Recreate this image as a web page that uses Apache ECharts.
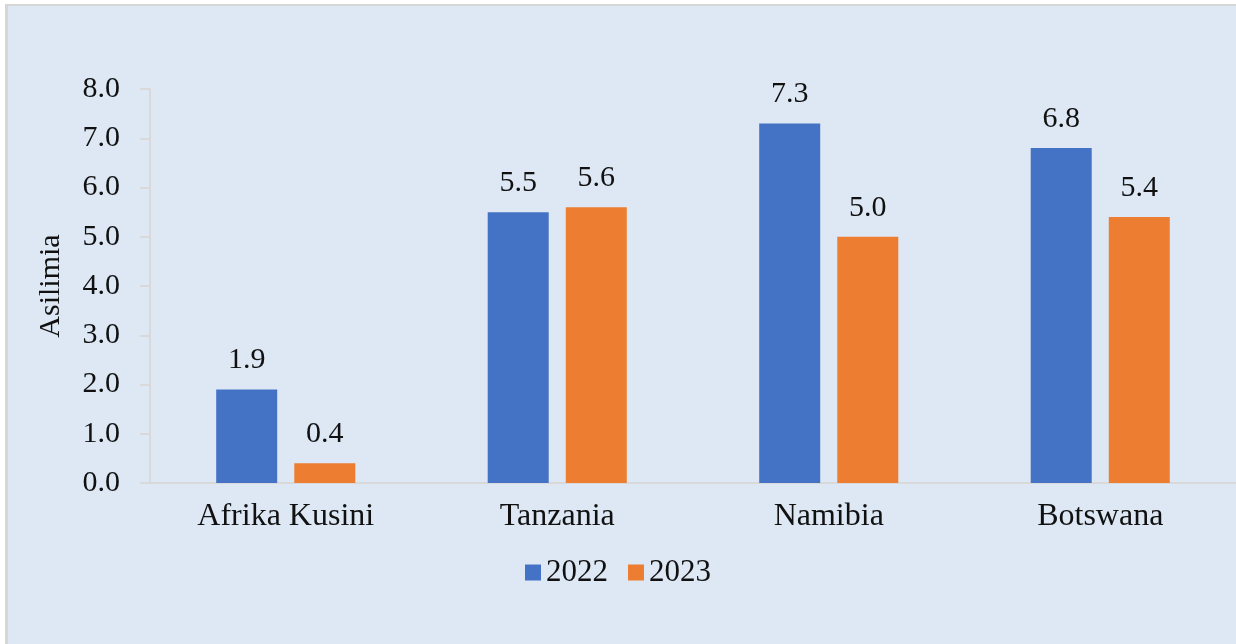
<!DOCTYPE html>
<html>
<head>
<meta charset="utf-8">
<script src="https://cdn.jsdelivr.net/npm/echarts@6/dist/echarts.min.js"></script>
<style>
  html, body { margin: 0; padding: 0; background: #fff; }
  #frame {
    position: absolute; left: 5px; top: 4px; right: 0; bottom: 0;
    background: #dde8f4;
    border-top: 2px solid #d6d6d6;
    border-left: 3px solid #d6d6d6;
  }
  #main { position: absolute; left: 0; top: 0; width: 1236px; height: 644px; }
</style>
</head>
<body>
<div id="frame"></div>
<div id="main"></div>
<script>
const categories = ['Afrika Kusini', 'Tanzania', 'Namibia', 'Botswana'];
const values2022 = [1.9, 5.5, 7.3, 6.8];
const values2023 = [0.4, 5.6, 5.0, 5.4];
const seriesNames = ['2022', '2023'];

const font = "'Liberation Serif', 'Times New Roman', serif";
const chart = echarts.init(document.getElementById('main'), null, { renderer: 'canvas' });

const label = {
  show: true,
  position: 'top',
  distance: 14,
  color: '#111',
  fontFamily: font,
  fontSize: 30,
  formatter: p => p.value.toFixed(1)
};

chart.setOption({
  backgroundColor: 'transparent',
  animation: false,
  color: ['#4472c4', '#ed7d31'],
  grid: { left: 150, right: 0, top: 89, bottom: 161 },
  legend: {
    data: seriesNames,
    left: 'center',
    top: 552,
    icon: 'rect',
    itemWidth: 16,
    itemHeight: 16,
    itemGap: 20,
    textStyle: { fontFamily: font, fontSize: 31, color: '#111' }
  },
  xAxis: {
    type: 'category',
    data: categories,
    axisLine: { lineStyle: { color: '#d9d9d9', width: 2 } },
    axisTick: { show: false },
    axisLabel: { color: '#111', fontFamily: font, fontSize: 32, margin: 18 }
  },
  yAxis: {
    type: 'value',
    min: 0,
    max: 8,
    interval: 1,
    name: 'Asilimia',
    nameLocation: 'middle',
    nameGap: 84,
    nameTextStyle: { color: '#111', fontFamily: font, fontSize: 30 },
    axisLine: { show: true, lineStyle: { color: '#d9d9d9', width: 2 } },
    axisTick: { show: true, length: 10, lineStyle: { color: '#d9d9d9', width: 2 } },
    splitLine: { show: false },
    axisLabel: {
      color: '#111', fontFamily: font, fontSize: 30, margin: 30,
      formatter: v => v.toFixed(1)
    }
  },
  series: [
    { name: seriesNames[0], type: 'bar', data: values2022, barWidth: 61, barGap: '28%', label: label },
    { name: seriesNames[1], type: 'bar', data: values2023, barWidth: 61, barGap: '28%', label: label }
  ]
});
</script>
</body>
</html>
